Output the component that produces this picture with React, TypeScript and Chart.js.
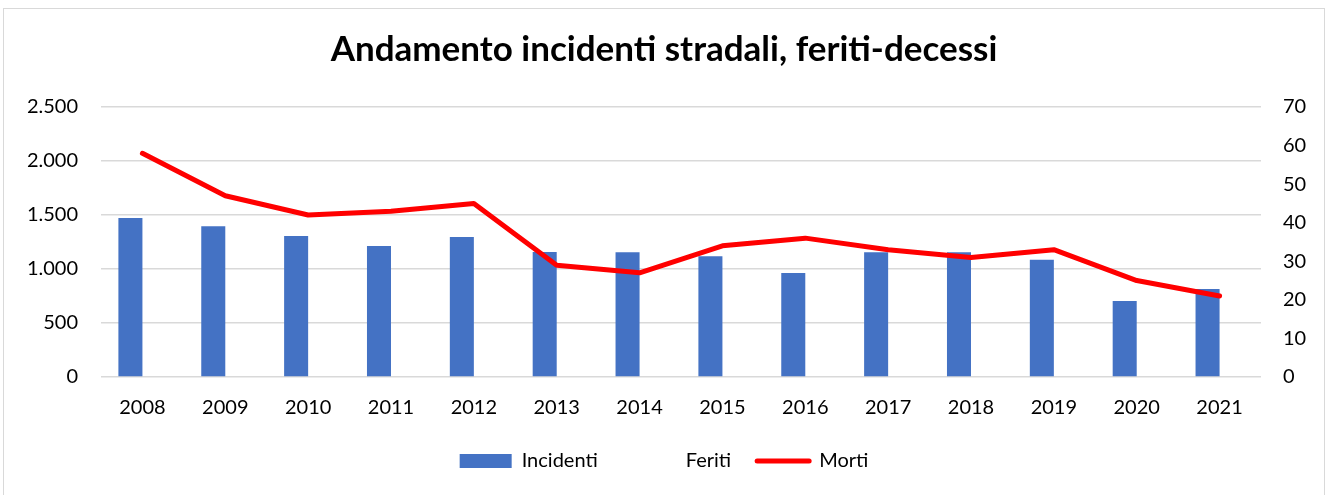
import React, { useEffect, useRef } from "react";
import { Chart, registerables } from "chart.js";

Chart.register(...registerables);

const categories = ["2008", "2009", "2010", "2011", "2012", "2013", "2014", "2015", "2016", "2017", "2018", "2019", "2020", "2021"];
const incidenti = [1472, 1395, 1305, 1213, 1296, 1157, 1154, 1117, 963, 1154, 1154, 1086, 704, 815];
const feriti = [null, null, null, null, null, null, null, null, null, null, null, null, null, null];
const morti = [58, 47, 42, 43, 45, 29, 27, 34, 36, 33, 31, 33, 25, 21];
const leftMax = 2500;
const leftStep = 500;
const rightMax = 70;
const rightStep = 10;

const TITLE = "Andamento incidenti stradali, feriti-decessi";
const FONT = "Lato, 'Open Sans', sans-serif";

const fmt = (v: number) => String(v).replace(/\B(?=(\d{3})+(?!\d))/g, ".");

export default function App() {
  const ref = useRef<HTMLCanvasElement | null>(null);

  useEffect(() => {
    if (!ref.current) return;
    const chart = new Chart(ref.current, {
      type: "bar",
      data: {
        labels: categories,
        datasets: [
          {
            type: "bar",
            label: "Incidenti",
            data: incidenti,
            backgroundColor: "#4472C4",
            yAxisID: "y",
            order: 1,
            barPercentage: 1,
            categoryPercentage: 0.58,
          },
          {
            type: "bar",
            label: "Feriti",
            data: feriti as any,
            backgroundColor: "rgba(0,0,0,0)",
            yAxisID: "y",
            order: 1,
            barPercentage: 1,
            categoryPercentage: 0.58,
          },
          {
            type: "line",
            label: "Morti",
            data: morti,
            borderColor: "#FF0000",
            backgroundColor: "#FF0000",
            borderWidth: 5,
            pointRadius: 0,
            borderCapStyle: "round",
            borderJoinStyle: "round",
            tension: 0,
            yAxisID: "y1",
            order: 0,
          },
        ],
      },
      options: {
        responsive: false,
        maintainAspectRatio: false,
        animation: false,
        layout: { padding: { top: 0, left: 0, right: 0, bottom: 14 } },
        plugins: {
          title: {
            display: true,
            text: TITLE,
            color: "#000",
            font: { family: FONT, size: 35, weight: "bold" },
            padding: { top: 20, bottom: 36 },
          },
          tooltip: { enabled: false },
          legend: {
            position: "bottom",
            labels: {
              color: "#000",
              font: { family: FONT, size: 20 },
              usePointStyle: true,
              pointStyleWidth: 52,
              boxHeight: 14,
              padding: 26,
              sort: (a: any, b: any) => a.datasetIndex - b.datasetIndex,
              generateLabels: (chart: any) =>
                chart.data.datasets.map((ds: any, i: number) => {
                  if (ds.type === "line") {
                    return {
                      text: ds.label,
                      datasetIndex: i,
                      pointStyle: "line",
                      fillStyle: "#FF0000",
                      strokeStyle: "#FF0000",
                      lineWidth: 5,
                      lineCap: "round",
                      fontColor: "#000",
                      hidden: false,
                    };
                  }
                  return {
                    text: ds.label,
                    datasetIndex: i,
                    pointStyle: "rect",
                    fillStyle: ds.backgroundColor,
                    strokeStyle: "rgba(0,0,0,0)",
                    lineWidth: 0,
                    fontColor: "#000",
                    hidden: false,
                  };
                }),
            },
          },
        },
        scales: {
          x: {
            grid: { display: false, drawTicks: false },
            border: { display: false },
            ticks: { color: "#000", font: { family: FONT, size: 20 }, padding: 19, maxRotation: 0 },
            afterFit: (s: any) => {
              s.height = 48;
            },
          },
          y: {
            position: "left",
            min: 0,
            max: leftMax,
            grid: { color: "#D9D9D9", lineWidth: 1.5, drawTicks: false },
            border: { display: false },
            ticks: {
              stepSize: leftStep,
              color: "#000",
              font: { family: FONT, size: 20 },
              padding: 23,
              callback: (v: any) => fmt(Number(v)),
            },
            afterFit: (s: any) => {
              s.width = 97;
            },
          },
          y1: {
            position: "right",
            min: 0,
            max: rightMax,
            grid: { drawOnChartArea: false, drawTicks: false },
            border: { display: false },
            ticks: {
              stepSize: rightStep,
              color: "#000",
              font: { family: FONT, size: 20 },
              padding: 22,
            },
            afterFit: (s: any) => {
              s.width = 63;
            },
          },
        },
      },
    });
    return () => chart.destroy();
  }, []);

  return (
    <div
      style={{
        position: "absolute",
        left: 3,
        top: 8,
        width: 1320,
        height: 486,
        border: "1px solid #D9D9D9",
        borderBottom: "none",
        background: "#fff",
      }}
    >
      <canvas ref={ref} width={1320} height={486} style={{ display: "block", width: 1320, height: 486 }} />
    </div>
  );
}
